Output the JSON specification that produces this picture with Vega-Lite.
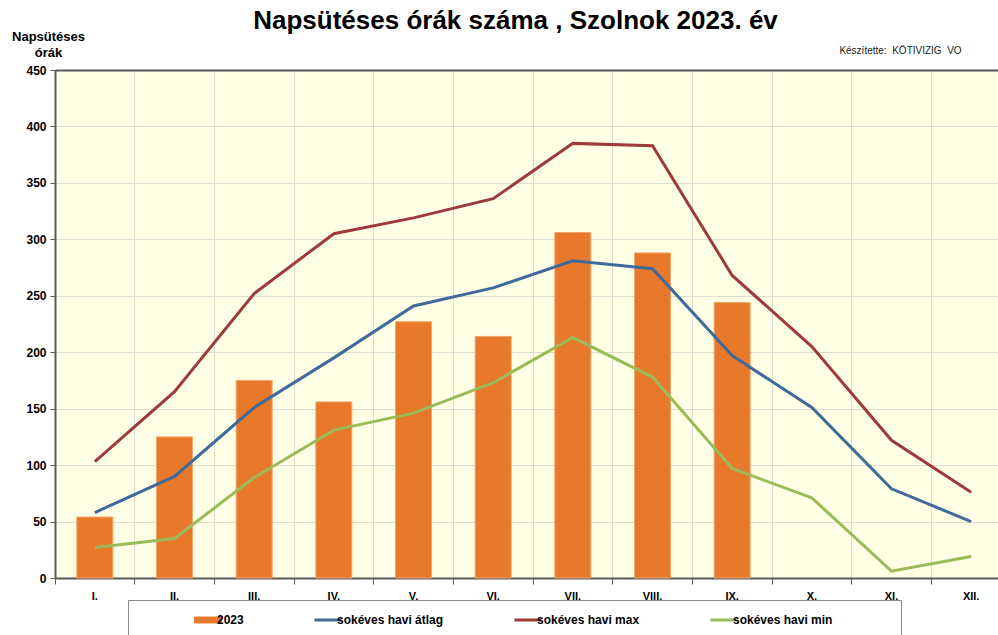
{
  "$schema": "https://vega.github.io/schema/vega-lite/v6.json",
  "width": 943,
  "height": 508,
  "autosize": {"type": "none"},
  "padding": {"left": 55, "top": 70, "right": 0, "bottom": 57},
  "background": "white",
  "config": {
    "font": "Liberation Sans",
    "view": {"fill": "#FFFFE6", "stroke": null}
  },
  "title": {
    "text": "Napsütéses órák száma , Szolnok 2023. év",
    "fontSize": 26,
    "fontWeight": "bold",
    "color": "#000000",
    "anchor": "middle",
    "frame": "group",
    "dx": -11,
    "offset": -4
  },
  "data": {
    "values": [
      {"month": "I.", "series": "2023", "value": 54},
      {"month": "II.", "series": "2023", "value": 125},
      {"month": "III.", "series": "2023", "value": 175},
      {"month": "IV.", "series": "2023", "value": 156},
      {"month": "V.", "series": "2023", "value": 227},
      {"month": "VI.", "series": "2023", "value": 214},
      {"month": "VII.", "series": "2023", "value": 306},
      {"month": "VIII.", "series": "2023", "value": 288},
      {"month": "IX.", "series": "2023", "value": 244},
      {"month": "I.", "series": "sokéves havi átlag", "value": 58},
      {"month": "II.", "series": "sokéves havi átlag", "value": 90},
      {"month": "III.", "series": "sokéves havi átlag", "value": 151},
      {"month": "IV.", "series": "sokéves havi átlag", "value": 195},
      {"month": "V.", "series": "sokéves havi átlag", "value": 241},
      {"month": "VI.", "series": "sokéves havi átlag", "value": 257},
      {"month": "VII.", "series": "sokéves havi átlag", "value": 281},
      {"month": "VIII.", "series": "sokéves havi átlag", "value": 274},
      {"month": "IX.", "series": "sokéves havi átlag", "value": 197},
      {"month": "X.", "series": "sokéves havi átlag", "value": 151},
      {"month": "XI.", "series": "sokéves havi átlag", "value": 79},
      {"month": "XII.", "series": "sokéves havi átlag", "value": 50},
      {"month": "I.", "series": "sokéves havi max", "value": 103},
      {"month": "II.", "series": "sokéves havi max", "value": 165},
      {"month": "III.", "series": "sokéves havi max", "value": 252},
      {"month": "IV.", "series": "sokéves havi max", "value": 305},
      {"month": "V.", "series": "sokéves havi max", "value": 319},
      {"month": "VI.", "series": "sokéves havi max", "value": 336},
      {"month": "VII.", "series": "sokéves havi max", "value": 385},
      {"month": "VIII.", "series": "sokéves havi max", "value": 383},
      {"month": "IX.", "series": "sokéves havi max", "value": 268},
      {"month": "X.", "series": "sokéves havi max", "value": 205},
      {"month": "XI.", "series": "sokéves havi max", "value": 122},
      {"month": "XII.", "series": "sokéves havi max", "value": 76},
      {"month": "I.", "series": "sokéves havi min", "value": 27},
      {"month": "II.", "series": "sokéves havi min", "value": 35},
      {"month": "III.", "series": "sokéves havi min", "value": 89},
      {"month": "IV.", "series": "sokéves havi min", "value": 131},
      {"month": "V.", "series": "sokéves havi min", "value": 146},
      {"month": "VI.", "series": "sokéves havi min", "value": 173},
      {"month": "VII.", "series": "sokéves havi min", "value": 213},
      {"month": "VIII.", "series": "sokéves havi min", "value": 178},
      {"month": "IX.", "series": "sokéves havi min", "value": 97},
      {"month": "X.", "series": "sokéves havi min", "value": 71},
      {"month": "XI.", "series": "sokéves havi min", "value": 6},
      {"month": "XII.", "series": "sokéves havi min", "value": 19}
    ]
  },
  "encoding": {
    "x": {
      "field": "month",
      "type": "ordinal",
      "sort": ["I.", "II.", "III.", "IV.", "V.", "VI.", "VII.", "VIII.", "IX.", "X.", "XI.", "XII."],
      "scale": {"range": [0, 956], "paddingInner": 0, "paddingOuter": 0},
      "axis": {
        "bandPosition": 0,
        "grid": true,
        "gridColor": "#DCDCD2",
        "gridWidth": 1,
        "domainColor": "#595959",
        "domainWidth": 2,
        "tickColor": "#595959",
        "tickSize": 6,
        "labelAngle": 0,
        "labelFontSize": 11,
        "labelFontWeight": "bold",
        "labelColor": "#000000",
        "labelPadding": 6,
        "title": "Készítette:\u00a0 KÖTIVIZIG\u00a0 VO",
        "titleFontSize": 10,
        "titleFontWeight": "normal",
        "titleColor": "#222222",
        "titleX": 845,
        "titleY": -528,
        "titleAlign": "center",
        "titleBaseline": "middle"
      }
    },
    "y": {
      "field": "value",
      "type": "quantitative",
      "scale": {"domain": [0, 450], "nice": false},
      "axis": {
        "values": [0, 50, 100, 150, 200, 250, 300, 350, 400, 450],
        "grid": true,
        "gridColor": {"condition": {"test": "datum.value === 450", "value": "#595959"}, "value": "#DCDCD2"},
        "gridWidth": {"condition": {"test": "datum.value === 450", "value": 2}, "value": 1},
        "domainColor": "#595959",
        "domainWidth": 2,
        "tickColor": "#595959",
        "tickSize": 5,
        "labelFontSize": 12,
        "labelFontWeight": "bold",
        "labelColor": "#000000",
        "labelPadding": 4,
        "title": ["Napsütéses", "órák"],
        "titleAngle": 0,
        "titleX": -7,
        "titleY": -40,
        "titleAlign": "center",
        "titleBaseline": "top",
        "titleFontSize": 13,
        "titleFontWeight": "bold",
        "titleLineHeight": 16,
        "titleColor": "#000000"
      }
    },
    "color": {
      "field": "series",
      "type": "nominal",
      "scale": {
        "domain": ["2023", "sokéves havi átlag", "sokéves havi max", "sokéves havi min"],
        "range": ["#E8782A", "#40699C", "#9E3B38", "#9BBB59"]
      },
      "legend": {
        "orient": "none",
        "legendX": 73,
        "legendY": 530,
        "direction": "horizontal",
        "columns": 4,
        "title": "MMMM",
        "titleOrient": "left",
        "titleFontSize": 16.5,
        "titleFontWeight": "bold",
        "titleColor": "rgba(0,0,0,0)",
        "titlePadding": 5,
        "padding": 14,
        "columnPadding": 64,
        "strokeColor": "#888888",
        "fillColor": "#FFFFFF",
        "labelFontSize": 12,
        "labelFontWeight": "bold",
        "labelColor": "#000000",
        "labelOffset": 3,
        "labelLimit": 400,
        "labelExpr": "datum.label === 'sokéves havi min' ? datum.label + '\u2800\u2800\u2800\u2800\u2800\u2800' : datum.label",
        "symbolSize": 729,
        "encode": {
          "symbols": {
            "update": {
              "shape": {"signal": "datum.value === '2023' ? 'M-1,-0.22H1V0.22H-1Z' : 'stroke'"},
              "fill": {"signal": "datum.value === '2023' ? '#E8782A' : 'transparent'"},
              "stroke": {"signal": "datum.value === '2023' ? '#F3A56A' : scale('color', datum.value)"},
              "strokeWidth": {"signal": "datum.value === '2023' ? 1 : 3"},
              "opacity": {"value": 1}
            }
          }
        }
      }
    }
  },
  "layer": [
    {
      "transform": [{"filter": "datum.series === '2023'"}],
      "mark": {"type": "bar", "size": 36, "stroke": "#F3A56A", "strokeWidth": 1}
    },
    {
      "transform": [{"filter": "datum.series !== '2023'"}],
      "mark": {"type": "line", "strokeWidth": 3}
    }
  ]
}
